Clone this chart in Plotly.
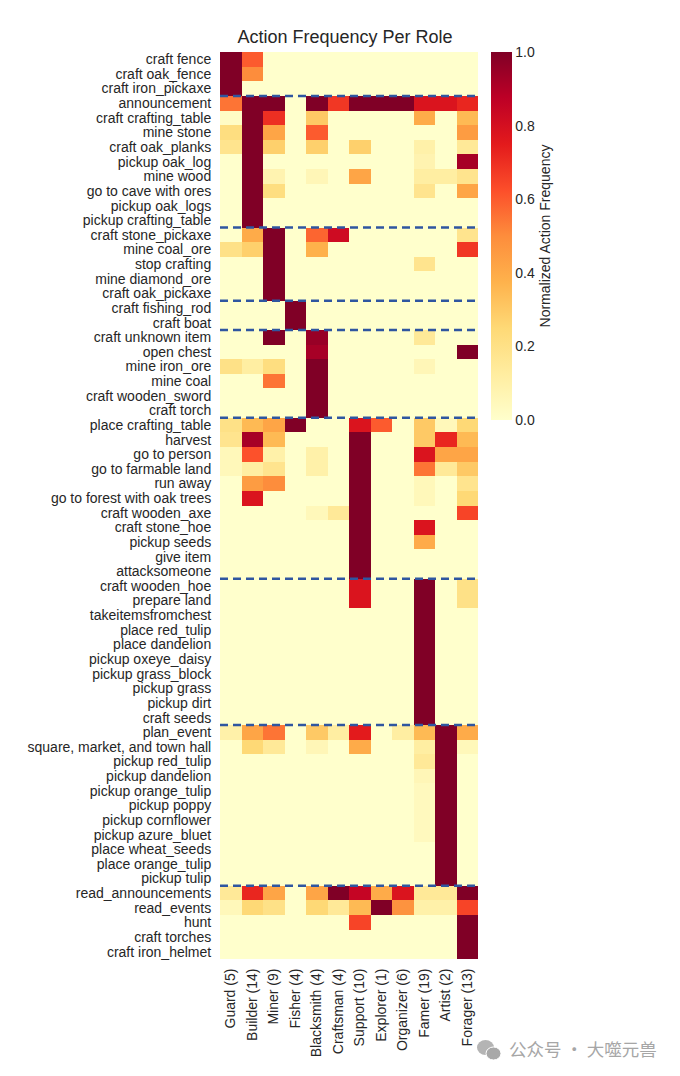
import plotly.graph_objects as go

roles = ["Guard (5)", "Builder (14)", "Miner (9)", "Fisher (4)", "Blacksmith (4)",
         "Craftsman (4)", "Support (10)", "Explorer (1)", "Organizer (6)",
         "Famer (19)", "Artist (2)", "Forager (13)"]

actions = [
    "craft fence", "craft oak_fence", "craft iron_pickaxe",
    "announcement", "craft crafting_table", "mine stone", "craft oak_planks",
    "pickup oak_log", "mine wood", "go to cave with ores", "pickup oak_logs",
    "pickup crafting_table",
    "craft stone_pickaxe", "mine coal_ore", "stop crafting", "mine diamond_ore",
    "craft oak_pickaxe",
    "craft fishing_rod", "craft boat",
    "craft unknown item", "open chest", "mine iron_ore", "mine coal",
    "craft wooden_sword", "craft torch",
    "place crafting_table", "harvest", "go to person", "go to farmable land",
    "run away", "go to forest with oak trees", "craft wooden_axe",
    "craft stone_hoe", "pickup seeds", "give item", "attacksomeone",
    "craft wooden_hoe", "prepare land", "takeitemsfromchest", "place red_tulip",
    "place dandelion", "pickup oxeye_daisy", "pickup grass_block", "pickup grass",
    "pickup dirt", "craft seeds",
    "plan_event", "square, market, and town hall", "pickup red_tulip",
    "pickup dandelion", "pickup orange_tulip", "pickup poppy", "pickup cornflower",
    "pickup azure_bluet", "place wheat_seeds", "place orange_tulip", "pickup tulip",
    "read_announcements", "read_events", "hunt", "craft torches", "craft iron_helmet",
]

# group boundaries (index of last row in each group, before a dashed line)
group_ends = [2, 11, 16, 18, 24, 35, 45, 56]

# normalized action frequency, one row per action, columns in `roles` order
freq = [
    [1.00, 0.60, 0, 0, 0, 0, 0, 0, 0, 0, 0, 0],
    [1.00, 0.50, 0, 0, 0, 0, 0, 0, 0, 0, 0, 0],
    [1.00, 0, 0, 0, 0, 0, 0, 0, 0, 0, 0, 0],
    [0.55, 1.00, 1.00, 0, 1.00, 0.68, 1.00, 1.00, 1.00, 0.78, 0.78, 0.72],
    [0.02, 1.00, 0.70, 0, 0.30, 0, 0, 0, 0, 0.40, 0, 0.35],
    [0.22, 1.00, 0.42, 0, 0.60, 0, 0, 0, 0, 0, 0, 0.45],
    [0.18, 1.00, 0.28, 0, 0.28, 0, 0.28, 0, 0, 0.10, 0, 0.15],
    [0, 1.00, 0, 0, 0, 0, 0, 0, 0, 0.08, 0, 0.92],
    [0, 1.00, 0.08, 0, 0.06, 0, 0.42, 0, 0, 0.12, 0.12, 0.18],
    [0, 1.00, 0.22, 0, 0, 0, 0, 0, 0, 0.18, 0, 0.42],
    [0, 1.00, 0, 0, 0, 0, 0, 0, 0, 0, 0, 0],
    [0, 1.00, 0, 0, 0, 0, 0, 0, 0, 0, 0, 0],
    [0, 0.40, 1.00, 0, 0.58, 0.82, 0, 0, 0, 0, 0, 0.18],
    [0.20, 0.28, 1.00, 0, 0.38, 0, 0, 0, 0, 0, 0, 0.68],
    [0, 0, 1.00, 0, 0, 0, 0, 0, 0, 0.18, 0, 0],
    [0, 0, 1.00, 0, 0, 0, 0, 0, 0, 0, 0, 0],
    [0, 0, 1.00, 0, 0, 0, 0, 0, 0, 0, 0, 0],
    [0, 0, 0, 1.00, 0, 0, 0, 0, 0, 0, 0, 0],
    [0, 0, 0, 1.00, 0, 0, 0, 0, 0, 0, 0, 0],
    [0, 0, 1.00, 0, 0.95, 0, 0, 0, 0, 0.15, 0, 0],
    [0, 0, 0, 0, 0.92, 0, 0, 0, 0, 0, 0, 1.00],
    [0.20, 0.12, 0.22, 0, 1.00, 0, 0, 0, 0, 0.06, 0, 0],
    [0, 0, 0.55, 0, 1.00, 0, 0, 0, 0, 0, 0, 0],
    [0, 0, 0, 0, 1.00, 0, 0, 0, 0, 0, 0, 0],
    [0, 0, 0, 0, 1.00, 0, 0, 0, 0, 0, 0, 0],
    [0.20, 0.35, 0.42, 1.00, 0, 0, 0.78, 0.60, 0, 0.30, 0.05, 0.25],
    [0.18, 0.92, 0.35, 0, 0, 0, 1.00, 0, 0, 0.30, 0.72, 0.35],
    [0.05, 0.62, 0.10, 0, 0.10, 0, 1.00, 0, 0, 0.78, 0.42, 0.42],
    [0.05, 0.12, 0.18, 0, 0.10, 0, 1.00, 0, 0, 0.55, 0.15, 0.30],
    [0, 0.45, 0.50, 0, 0, 0, 1.00, 0, 0, 0.05, 0, 0.18],
    [0, 0.78, 0, 0, 0, 0, 1.00, 0, 0, 0.05, 0, 0.25],
    [0, 0, 0, 0, 0.05, 0.15, 1.00, 0, 0, 0, 0, 0.65],
    [0, 0, 0, 0, 0, 0, 1.00, 0, 0, 0.78, 0, 0],
    [0, 0, 0, 0, 0, 0, 1.00, 0, 0, 0.40, 0, 0],
    [0, 0, 0, 0, 0, 0, 1.00, 0, 0, 0, 0, 0],
    [0, 0, 0, 0, 0, 0, 1.00, 0, 0, 0, 0, 0],
    [0, 0, 0, 0, 0, 0, 0.78, 0, 0, 1.00, 0, 0.20],
    [0, 0, 0, 0, 0, 0, 0.78, 0, 0, 1.00, 0, 0.20],
    [0, 0, 0, 0, 0, 0, 0, 0, 0, 1.00, 0, 0],
    [0, 0, 0, 0, 0, 0, 0, 0, 0, 1.00, 0, 0],
    [0, 0, 0, 0, 0, 0, 0, 0, 0, 1.00, 0, 0],
    [0, 0, 0, 0, 0, 0, 0, 0, 0, 1.00, 0, 0],
    [0, 0, 0, 0, 0, 0, 0, 0, 0, 1.00, 0, 0],
    [0, 0, 0, 0, 0, 0, 0, 0, 0, 1.00, 0, 0],
    [0, 0, 0, 0, 0, 0, 0, 0, 0, 1.00, 0, 0],
    [0, 0, 0, 0, 0, 0, 0, 0, 0, 1.00, 0, 0],
    [0.10, 0.42, 0.55, 0, 0.30, 0.12, 0.75, 0, 0.12, 0.35, 1.00, 0.40],
    [0, 0.25, 0.15, 0, 0.06, 0, 0.40, 0, 0, 0.12, 1.00, 0.05],
    [0, 0, 0, 0, 0, 0, 0, 0, 0, 0.15, 1.00, 0],
    [0, 0, 0, 0, 0, 0, 0, 0, 0, 0.06, 1.00, 0],
    [0, 0, 0, 0, 0, 0, 0, 0, 0, 0.04, 1.00, 0],
    [0, 0, 0, 0, 0, 0, 0, 0, 0, 0.04, 1.00, 0],
    [0, 0, 0, 0, 0, 0, 0, 0, 0, 0.04, 1.00, 0],
    [0, 0, 0, 0, 0, 0, 0, 0, 0, 0.04, 1.00, 0],
    [0, 0, 0, 0, 0, 0, 0, 0, 0, 0, 1.00, 0],
    [0, 0, 0, 0, 0, 0, 0, 0, 0, 0, 1.00, 0],
    [0, 0, 0, 0, 0, 0, 0, 0, 0, 0, 1.00, 0],
    [0.15, 0.72, 0.42, 0, 0.42, 1.00, 0.85, 0.40, 0.78, 0.15, 0.15, 1.00],
    [0.05, 0.25, 0.20, 0, 0.25, 0.15, 0.35, 1.00, 0.48, 0.10, 0.10, 0.65],
    [0, 0, 0, 0, 0, 0, 0.65, 0, 0, 0, 0, 1.00],
    [0, 0, 0, 0, 0, 0, 0, 0, 0, 0, 0, 1.00],
    [0, 0, 0, 0, 0, 0, 0, 0, 0, 0, 0, 1.00],
]

ylorrd = ["#ffffcc", "#ffeda0", "#fed976", "#feb24c", "#fd8d3c",
          "#fc4e2a", "#e31a1c", "#bd0026", "#800026"]
colorscale = [[i / (len(ylorrd) - 1), c] for i, c in enumerate(ylorrd)]

font_family = "Liberation Sans, Arial, sans-serif"

# page has an 8px body margin, so the figure is drawn at (8, 8)
W, H = 672, 1068
L, R, T, B = 212, 202, 44, 117
PW, PH = W - L - R, H - T - B

fig = go.Figure(go.Heatmap(
    z=freq,
    x=list(range(len(roles))),
    y=list(range(len(actions))),
    colorscale=colorscale,
    zmin=0, zmax=1,
    xgap=0, ygap=0,
    colorbar=dict(
        x=(483 - L) / PW, xanchor="left", xpad=0,
        y=1, yanchor="top", ypad=0, len=368 / PH, lenmode="fraction",
        thickness=21, outlinewidth=0,
        tickvals=[0, 0.2, 0.4, 0.6, 0.8, 1.0],
        ticktext=["0.0", "0.2", "0.4", "0.6", "0.8", "1.0"],
        ticks="", ticklen=0,
        tickfont=dict(size=14, color="#262626", family=font_family),
        title=dict(text="Normalized Action Frequency", side="right",
                   font=dict(size=14, color="#262626", family=font_family)),
    ),
))

shapes = []
for e in group_ends:
    shapes.append(dict(
        type="line", xref="x", yref="y",
        x0=-0.5, x1=len(roles) - 0.5, y0=e + 0.5, y1=e + 0.5,
        line=dict(color="#2f56a0", width=2.5, dash="8px,5px"),
    ))

# watermark icon (two speech bubbles), positioned in page pixels
def px_x(p):
    return (p - 8 - L) / PW

def px_y(p):
    return 1 - (p - 8 - T) / PH

shapes.append(dict(type="circle", xref="paper", yref="paper",
                   x0=px_x(477), x1=px_x(494), y0=px_y(1055), y1=px_y(1040),
                   fillcolor="#b4b4b4", line=dict(width=0)))
shapes.append(dict(type="circle", xref="paper", yref="paper",
                   x0=px_x(486), x1=px_x(501), y0=px_y(1060), y1=px_y(1047),
                   fillcolor="#a8a8a8", line=dict(color="white", width=1)))

fig.update_layout(
    width=W, height=H, autosize=False,
    margin=dict(l=L, r=R, t=T, b=B, autoexpand=False),
    paper_bgcolor="white", plot_bgcolor="white",
    font=dict(family=font_family, color="#262626"),
    title=dict(text="Action Frequency Per Role", x=337 / W, xanchor="center",
               y=1 - 29 / H, yanchor="middle",
               font=dict(size=18, color="#262626", family=font_family)),
    xaxis=dict(tickmode="array", tickvals=list(range(len(roles))), ticktext=roles,
               tickangle=-90, showgrid=False, zeroline=False,
               ticks="outside", ticklen=3, tickcolor="rgba(0,0,0,0)",
               tickfont=dict(size=14, color="#262626"),
               range=[-0.5, len(roles) - 0.5]),
    yaxis=dict(tickmode="array", tickvals=list(range(len(actions))), ticktext=actions,
               autorange=False, range=[len(actions) - 0.5, -0.5],
               showgrid=False, zeroline=False,
               ticks="outside", ticklen=5, tickcolor="rgba(0,0,0,0)",
               tickfont=dict(size=14, color="#262626")),
    shapes=shapes,
    annotations=[dict(text="公众号 · 大噬元兽", xref="paper", yref="paper",
                      x=px_x(659), y=px_y(1048),
                      xanchor="right", yanchor="middle", showarrow=False,
                      font=dict(size=17.5, color="#a6a6a6",
                                family="Noto Sans CJK SC, sans-serif"))],
)

fig.write_html("out.html")
